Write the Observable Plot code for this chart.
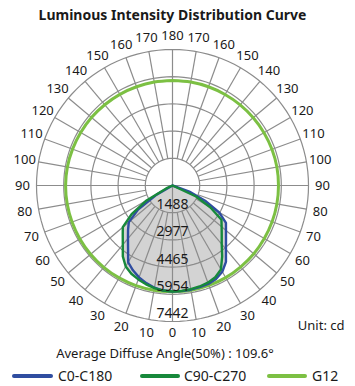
<!DOCTYPE html>
<html><head><meta charset="utf-8">
<script src="https://cdn.jsdelivr.net/npm/d3@7"></script>
<script src="https://cdn.jsdelivr.net/npm/@observablehq/plot@0.6"></script>
<style>
body{margin:0;background:#fff;font-family:"Noto Sans",sans-serif;color:#1a1a1a}
#wrap{position:relative;width:355px;height:386px;overflow:hidden;background:#fff}
#title{position:absolute;top:5px;left:0;width:345px;text-align:center;font-weight:bold;font-size:14px;line-height:20px}
#chart{position:absolute;top:20px;left:0}
#avg{position:absolute;top:343px;left:0;width:330px;text-align:center;font-size:13px;line-height:20px}
.leg{position:absolute;top:366px;height:20px;font-size:14px;line-height:20px}
.leg i{position:absolute;top:8px;left:0;height:4px;border-radius:2px}
.leg span{position:absolute;top:0;white-space:nowrap}
</style>
</head><body>
<div id="wrap">
  <div id="title"></div>
  <div id="chart"></div>
  <div id="avg"></div>
  <div id="legend"></div>
</div>
<script>
const titleText = "Luminous Intensity Distribution Curve";
const unitText = "Unit: cd";
const avgText = "Average Diffuse Angle(50%) : 109.6°";
const seriesNames = ["C0-C180", "C90-C270", "G12"];
const seriesColors = ["#2f4da0", "#17893b", "#7cc043"];
const ringValues = [1488, 2977, 4465, 5954, 7442];
const angleTicks = [0,10,20,30,40,50,60,70,80,90,100,110,120,130,140,150,160,170,180];

// C-plane curves, angle measured from nadir (0 = down, 180 = up)
const curveAngles = [0,5,10,15,20,25,30,35,40,45,50,55,60,65,70,75];
const c0   = [5800,5770,5680,5530,5350,5120,4850,4240,3790,3440,3120,2300,1000,0,0,0];     // left, blue
const c180 = [5800,5800,5790,5760,5730,5640,5450,5100,4550,4140,3820,3570,2950,1970,980,0]; // right, blue
const c90  = [5800,5770,5700,5600,5470,5330,5120,4740,4230,3850,3550,2730,1640,380,0,0];    // left, green
const c270 = [5800,5790,5760,5720,5660,5540,5300,4740,4190,3810,3510,3270,2400,1420,0,0];   // right, green
const g12Angles = [0,10,20,30,40,50,60,70,80,90,100,110,120,130,140,150,160,170,180];
const g12Left  = [5820,5820,5830,5840,5850,5850,5850,5850,5850,5850,5840,5820,5800,5790,5770,5760,5750,5750,5750];
const g12Right = [5820,5820,5820,5820,5810,5810,5800,5800,5800,5800,5800,5790,5780,5770,5760,5750,5750,5750,5750];

const R = ringValues[ringValues.length - 1];
const rad = a => a * Math.PI / 180;
const pt = (side, a, r, extra) => Object.assign({x: side * r * Math.sin(rad(a)), y: -r * Math.cos(rad(a))}, extra);

function buildCurve(name, angs, left, right) {
  const out = [];
  angs.forEach((a, i) => out.push(pt(-1, a, left[i], {series: name})));
  for (let i = angs.length - 1; i >= 0; i--) out.push(pt(1, angs[i], right[i], {series: name}));
  return out;
}
const blue = buildCurve(seriesNames[0], curveAngles, c0, c180);
const green = buildCurve(seriesNames[1], curveAngles, c90, c270);
const g12 = buildCurve(seriesNames[2], g12Angles, g12Left, g12Right);

// grid
const ringPts = [];
ringValues.forEach(v => d3.range(0, 361, 3).forEach(a => ringPts.push(pt(1, a, v, {ring: v}))));
const radials = [];
angleTicks.filter(a => a > 0 && a < 180 && a !== 90).forEach(a => {
  [-1, 1].forEach(s => {
    const p1 = pt(s, a, ringValues[0]), p2 = pt(s, a, R);
    radials.push({x1: p1.x, y1: p1.y, x2: p2.x, y2: p2.y});
  });
});
const axesLines = [
  {x1: 0, y1: -R, x2: 0, y2: R},
  {x1: -R, y1: 0, x2: R, y2: 0}
];
const labelR = R * 150 / 136;
const angleLabels = [];
angleTicks.forEach(a => {
  const sides = (a === 0 || a === 180) ? [1] : [-1, 1];
  sides.forEach(s => angleLabels.push(pt(s, a, a === 0 ? R * 147 / 136 : labelR, {label: String(a)})));
});
const ringLabels = ringValues.map(v => ({x: 0, y: -v, label: String(v)}));

const gridColor = "#8c8c8c";
const chart = Plot.plot({
  width: 355, height: 328,
  marginLeft: 36, marginRight: 47, marginTop: 29, marginBottom: 27,
  x: {domain: [-R, R], axis: null},
  y: {domain: [-R, R], axis: null},
  style: {fontFamily: "'Noto Sans', sans-serif", color: "#1a1a1a", background: "transparent"},
  marks: [
    Plot.line(blue, {x: "x", y: "y", fill: "#d3d3d3", stroke: "none"}),
    Plot.line(green, {x: "x", y: "y", fill: "#d3d3d3", stroke: "none"}),
    Plot.line(ringPts, {x: "x", y: "y", z: "ring", stroke: gridColor, strokeWidth: 1.2}),
    Plot.link(radials, {x1: "x1", y1: "y1", x2: "x2", y2: "y2", stroke: gridColor, strokeWidth: 1.2}),
    Plot.link(axesLines, {x1: "x1", y1: "y1", x2: "x2", y2: "y2", stroke: gridColor, strokeWidth: 1.2}),
    Plot.line(g12, {x: "x", y: "y", stroke: seriesColors[2], strokeWidth: 3, curve: "catmull-rom"}),
    Plot.line(blue, {x: "x", y: "y", stroke: seriesColors[0], strokeWidth: 2.4, strokeLinejoin: "round"}),
    Plot.line(green, {x: "x", y: "y", stroke: seriesColors[1], strokeWidth: 2.4, strokeLinejoin: "round"}),
    Plot.text(ringLabels, {x: "x", y: "y", text: "label", dy: -8, fontSize: 14, fill: "#1a1a1a"}),
    Plot.text(angleLabels, {x: "x", y: "y", text: "label", fontSize: 13, fill: "#1a1a1a"}),
    Plot.text([unitText], {frameAnchor: "bottom-right", textAnchor: "end", dx: 36, dy: 8, fontSize: 13, fill: "#1a1a1a"})
  ]
});
document.getElementById("chart").appendChild(chart);
document.getElementById("title").textContent = titleText;
document.getElementById("avg").textContent = avgText;

const legPos = [{line: 12, w: 41, text: 58}, {line: 140, w: 40, text: 184}, {line: 267, w: 40, text: 312}];
const legend = document.getElementById("legend");
seriesNames.forEach((n, i) => {
  const d = document.createElement("div");
  d.className = "leg";
  d.style.left = legPos[i].line + "px";
  d.innerHTML = `<i style="width:${legPos[i].w}px;background:${seriesColors[i]}"></i><span style="left:${legPos[i].text - legPos[i].line}px">${n}</span>`;
  legend.appendChild(d);
});
</script>
</body></html>
